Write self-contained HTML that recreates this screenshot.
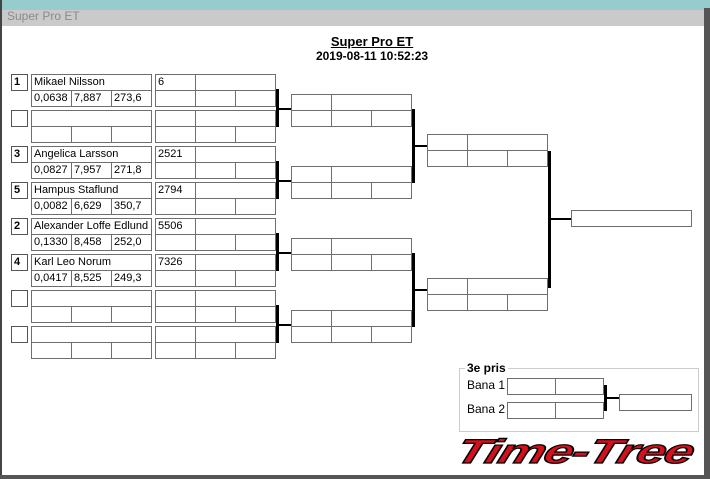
<!DOCTYPE html>
<html><head><meta charset="utf-8"><style>
body{margin:0;width:710px;height:479px;overflow:hidden;background:#fff;font-family:"Liberation Sans",sans-serif;font-size:11px;position:relative}
.c{position:absolute;box-sizing:border-box;border:1px solid #6e6e6e;background:#fff;padding-left:2px;line-height:14px;white-space:nowrap;overflow:hidden;color:#000}
.s{font-weight:bold;border-color:#555}
.l{position:absolute;background:#000}
.t{position:absolute;white-space:nowrap}
</style></head><body>
<div style="position:absolute;left:0;top:0;width:710px;height:10px;background:#96cdcc"></div>
<div style="position:absolute;left:0;top:10px;width:710px;height:16px;background:#cacaca"></div>
<div class="t" style="left:7px;top:9px;font-size:12px;color:#8a8a8a">Super Pro ET</div>
<div style="position:absolute;left:0;top:0;width:2px;height:479px;background:#444"></div>
<div style="position:absolute;left:704px;top:8px;width:6px;height:471px;background:#555"></div>
<div style="position:absolute;left:0;top:475px;width:710px;height:4px;background:#555"></div>
<div class="t" style="left:0;width:744px;text-align:center;top:34px;font-size:13px;font-weight:bold;text-decoration:underline">Super Pro ET</div>
<div class="t" style="left:0;width:744px;text-align:center;top:49px;font-size:12px;font-weight:bold">2019-08-11 10:52:23</div>
<div id="r"></div>
<div style="position:absolute;left:459px;top:368px;width:240px;height:64px;border:1px solid #ccc;box-sizing:border-box"></div>
<div class="t" style="left:465px;top:361px;background:#fff;padding:0 2px;font-weight:bold;font-size:12px">3e pris</div>
<div class="t" style="left:467px;top:378px;font-size:12px">Bana 1</div>
<div class="t" style="left:467px;top:402px;font-size:12px">Bana 2</div>
<div class="t" style="left:463px;top:433px;font-size:34px;font-weight:bold;font-style:italic;color:#d4101c;-webkit-text-stroke:1.2px #000;transform:skewX(-18deg) scaleX(1.55);transform-origin:left top;letter-spacing:-1px">Time-Tree</div>
<script>
var h='';
function c(x,y,w,t,cl){h+='<div class="c'+(cl?' '+cl:'')+'" style="left:'+x+'px;top:'+y+'px;width:'+(w+1)+'px;height:17px">'+(t||'')+'</div>';}
function L(x,y,w,hh){h+='<div class="l" style="left:'+x+'px;top:'+y+'px;width:'+w+'px;height:'+hh+'px"></div>';}
var P=[['1','Mikael Nilsson','0,0638','7,887','273,6','6'],['','','','','',''],['3','Angelica Larsson','0,0827','7,957','271,8','2521'],['5','Hampus Staflund','0,0082','6,629','350,7','2794'],['2','Alexander Loffe Edlund','0,1330','8,458','252,0','5506'],['4','Karl Leo Norum','0,0417','8,525','249,3','7326'],['','','','','',''],['','','','','','']];
for(var i=0;i<8;i++){var y=74+36*i,p=P[i];
c(11,y,16,p[0],'s');c(31,y,120,p[1]);c(31,y+16,40,p[2]);c(71,y+16,40,p[3]);c(111,y+16,40,p[4]);
c(155,y,40,p[5]);c(195,y,80,'');c(155,y+16,40,'');c(195,y+16,40,'');c(235,y+16,40,'');}
function box(x,y){c(x,y,40);c(x+40,y,80);c(x,y+16,40);c(x+40,y+16,40);c(x+80,y+16,40);}
for(var k=0;k<4;k++){var y0=90+72*k;L(276,y0-1,3,38);L(276,y0+18,15,2);box(291,y0+4);}
for(var k=0;k<2;k++){var a=110+144*k;L(412,a-1,3,74);L(412,a+35,15,2);box(427,a+24);}
L(548,151,3,137);L(548,218,23,2);c(571,210,120);
L(604,385,3,26);L(604,397,15,2);
c(507,378,48);c(555,378,48);c(507,402,48);c(555,402,48);c(619,394,72);
document.getElementById('r').innerHTML=h;
</script>
</body></html>
